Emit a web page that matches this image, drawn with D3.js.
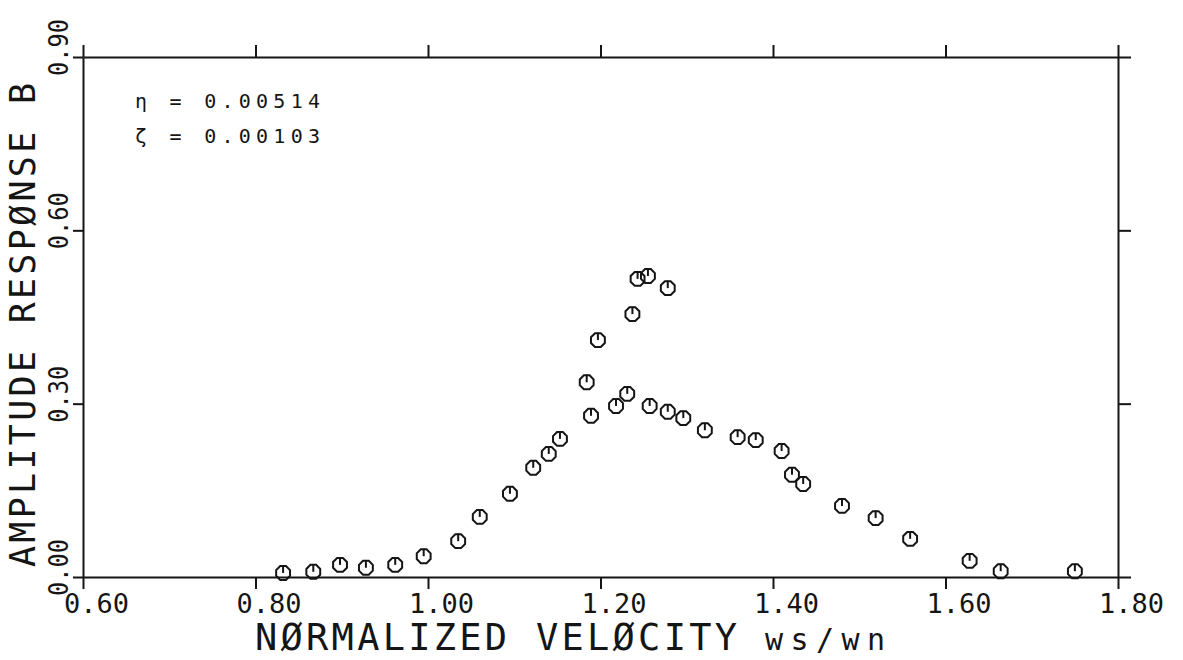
<!DOCTYPE html>
<html>
<head>
<meta charset="utf-8">
<script src="https://cdn.jsdelivr.net/npm/d3@7"></script>
<style>
  html, body { margin: 0; padding: 0; background: #fff; }
  svg { display: block; }
  text { font-family: "DejaVu Sans Mono", "Liberation Mono", monospace; fill: #151515; }
</style>
</head>
<body>
<svg id="chart" width="1183" height="660"></svg>
<script>
// Normalized velocity (ws/wn) of each measured point
const velocity = [
  0.832, 0.867, 0.898, 0.928, 0.962, 0.995, 1.035, 1.060, 1.095, 1.122,
  1.140, 1.153, 1.184, 1.189, 1.197, 1.218, 1.231, 1.237, 1.243, 1.255,
  1.257, 1.278, 1.278, 1.296, 1.321, 1.359, 1.380, 1.410, 1.422, 1.435,
  1.480, 1.519, 1.559, 1.628, 1.664, 1.750
];
// Amplitude response B of each measured point
const amplitude = [
  0.007, 0.009, 0.021, 0.016, 0.021, 0.036, 0.062, 0.104, 0.144, 0.189,
  0.213, 0.239, 0.337, 0.279, 0.410, 0.296, 0.317, 0.455, 0.516, 0.521,
  0.296, 0.286, 0.500, 0.275, 0.254, 0.242, 0.237, 0.218, 0.177, 0.161,
  0.123, 0.102, 0.066, 0.028, 0.010, 0.010
];
const xTicks = [0.60, 0.80, 1.00, 1.20, 1.40, 1.60, 1.80];
const yTicks = [0.00, 0.30, 0.60, 0.90];
const xTickLabels = ["0.60", "0.80", "1.00", "1.20", "1.40", "1.60", "1.80"];
const yTickLabels = ["0.00", "0.30", "0.60", "0.90"];
const annotations = ["η = 0.00514", "ζ = 0.00103"];

const svg = d3.select("#chart");
const ink = "#151515";

const x = d3.scaleLinear().domain([0.6, 1.8]).range([83, 1118]);
const y = d3.scaleLinear().domain([0, 0.9]).range([577, 57]);

// Frame: four axes, ticks pointing outward, labels drawn separately
function styleAxis(g) {
  g.selectAll("path, line").attr("stroke", ink).attr("stroke-width", 2);
  g.selectAll("text").remove();
}
svg.append("g").attr("transform", `translate(0,${y(0)})`)
  .call(d3.axisBottom(x).tickValues(xTicks).tickSize(12).tickSizeOuter(0)).call(styleAxis);
svg.append("g").attr("transform", `translate(0,${y(0.9)})`)
  .call(d3.axisTop(x).tickValues(xTicks).tickSize(12).tickSizeOuter(0)).call(styleAxis);
svg.append("g").attr("transform", `translate(${x(0.6)},0)`)
  .call(d3.axisLeft(y).tickValues(yTicks).tickSize(10).tickSizeOuter(0)).call(styleAxis);
svg.append("g").attr("transform", `translate(${x(1.8)},0)`)
  .call(d3.axisRight(y).tickValues(yTicks).tickSize(13).tickSizeOuter(0)).call(styleAxis);

// X tick labels: decimal point sits on the tick
svg.append("g").selectAll("text").data(xTicks).join("text")
  .attr("x", d => x(d) - 19)
  .attr("y", 613)
  .attr("font-size", 27)
  .attr("textLength", 65)
  .attr("lengthAdjust", "spacingAndGlyphs")
  .text((d, i) => xTickLabels[i]);

// Y tick labels, rotated to read upward
svg.append("g").selectAll("text").data(yTicks).join("text")
  .attr("transform", d => `translate(68,${y(d) + 19}) rotate(-90)`)
  .attr("font-size", 27)
  .attr("textLength", 57)
  .attr("lengthAdjust", "spacingAndGlyphs")
  .text((d, i) => yTickLabels[i]);

// Axis titles
svg.append("text")
  .attr("x", 255).attr("y", 650)
  .attr("font-size", 37)
  .attr("textLength", 482)
  .attr("lengthAdjust", "spacing")
  .text("NØRMALIZED VELØCITY");
svg.append("text")
  .attr("x", 765).attr("y", 650)
  .attr("font-size", 30)
  .attr("textLength", 120)
  .attr("lengthAdjust", "spacing")
  .text("ws/wn");
svg.append("text")
  .attr("transform", "translate(35,567) rotate(-90)")
  .attr("font-size", 35)
  .attr("textLength", 484)
  .attr("lengthAdjust", "spacing")
  .text("AMPLITUDE RESPØNSE B");

// Parameter annotations
svg.append("g").selectAll("text").data(annotations).join("text")
  .attr("x", 135)
  .attr("y", (d, i) => 108 + i * 35)
  .attr("font-size", 20)
  .attr("textLength", 185)
  .attr("lengthAdjust", "spacing")
  .text(d => d);

// Plotter marker: octagon with a stroke from its top to its centre
const r = 7.5;
const octagon = d3.line()(d3.range(8).map(i => {
  const a = Math.PI / 8 + i * Math.PI / 4;
  return [r * Math.cos(a), r * Math.sin(a)];
})) + "Z";

const points = velocity.map((v, i) => ({ v, a: amplitude[i] }));
const marks = svg.append("g").selectAll("g").data(points).join("g")
  .attr("transform", d => `translate(${x(d.v)},${y(d.a)})`);
marks.append("path")
  .attr("d", octagon)
  .attr("fill", "none")
  .attr("stroke", ink)
  .attr("stroke-width", 2);
marks.append("line")
  .attr("x1", 0).attr("y1", -r).attr("x2", 0).attr("y2", 0)
  .attr("stroke", ink)
  .attr("stroke-width", 2);
</script>
</body>
</html>
